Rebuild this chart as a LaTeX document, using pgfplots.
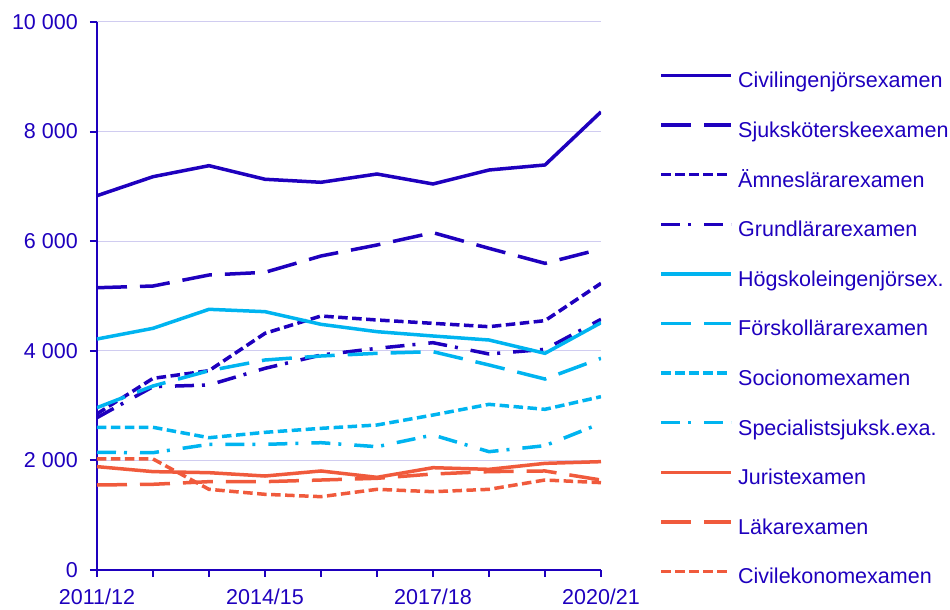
\documentclass[border=0pt]{standalone}
\usepackage{fontspec}
\setmainfont{Liberation Sans}
\usepackage{pgfplots}
\pgfplotsset{compat=1.18}
\usepackage{pgfplotstable}
\definecolor{scbdark}{RGB}{30,0,190}
\definecolor{scblight}{RGB}{0,180,240}
\definecolor{scborange}{RGB}{240,90,60}
\definecolor{gridc}{RGB}{208,204,240}

\pgfplotstableread{
x civ sjuk amne grund hog forsk socio spec jur lak cek
0 6830 5151 2850 2780 4215 2962 2604 2147 1886 1551 2026
1 7177 5182 3497 3345 4410 3358 2604 2141 1795 1564 2026
2 7378 5383 3637 3376 4757 3637 2414 2293 1776 1612 1472
3 7130 5432 4319 3680 4714 3832 2512 2293 1715 1612 1381
4 7075 5730 4635 3923 4483 3905 2585 2323 1807 1642 1338
5 7226 5931 4562 4045 4349 3954 2646 2250 1691 1673 1472
6 7044 6156 4501 4148 4270 3984 2828 2464 1867 1752 1429
7 7299 5870 4440 3942 4197 3741 3023 2159 1837 1795 1472
8 7391 5596 4550 4027 3954 3485 2932 2269 1946 1807 1642
9 8360 5858 5231 4574 4513 3863 3163 2677 1977 1642 1594
}\data

\tikzset{
  solidl/.style={solid},
  longd/.style={dash pattern=on 30pt off 13pt},
  shortd/.style={dash pattern=on 9.5pt off 4.5pt},
  dashdot/.style={dash pattern=on 19pt off 8pt on 3pt off 13pt},
}

\begin{document}
\fontsize{21pt}{25pt}\selectfont
\begin{tikzpicture}
\path[use as bounding box] (-97pt,-40pt) rectangle (853pt,570pt);
\begin{axis}[
  at={(0,0)}, anchor=origin,
  scale only axis, width=504pt, height=548pt,
  xmin=0, xmax=9, ymin=0, ymax=10000,
  scaled y ticks=false,
  axis x line=bottom, axis y line=left,
  axis line style={-, scbdark, line width=2pt},
  xtick={0,...,9}, xticklabels={2011/12,,,2014/15,,,2017/18,,,2020/21},
  ytick={0,2000,...,10000}, yticklabels={0,2 000,4 000,6 000,8 000,10 000},
  tick align=outside, major tick length=7pt,
  tick style={scbdark, line width=2pt},
  ymajorgrids, grid style={gridc, line width=1pt},
  ticklabel style={font=\fontsize{21.5pt}{25pt}\selectfont, text=scbdark},
  yticklabel style={xshift=-5pt},
  xticklabel style={yshift=-5pt},
  every axis plot/.append style={line width=3.5pt},
  legend image code/.code={\draw[#1, line width=3.5pt] (0pt,7pt) -- (70pt,7pt);},
  legend cell align=left,
  legend style={at={(1.116,0.911)}, anchor=north west, draw=none, fill=none,
    inner sep=0pt, row sep=26.6pt, column sep=3pt,
    nodes={inner sep=2pt, text height=15pt, text depth=4pt, text=scbdark,
      font=\fontsize{21.5pt}{25pt}\selectfont}},
]
\addplot[scbdark, solidl] table[x=x,y=civ]{\data};
\addlegendentry{Civilingenjörsexamen}
\addplot[scbdark, longd] table[x=x,y=sjuk]{\data};
\addlegendentry{Sjuksköterskeexamen}
\addplot[scbdark, shortd] table[x=x,y=amne]{\data};
\addlegendentry{Ämneslärarexamen}
\addplot[scbdark, dashdot] table[x=x,y=grund]{\data};
\addlegendentry{Grundlärarexamen}
\addplot[scblight, solidl] table[x=x,y=hog]{\data};
\addlegendentry{Högskoleingenjörsex.}
\addplot[scblight, longd] table[x=x,y=forsk]{\data};
\addlegendentry{Förskollärarexamen}
\addplot[scblight, shortd] table[x=x,y=socio]{\data};
\addlegendentry{Socionomexamen}
\addplot[scblight, dashdot] table[x=x,y=spec]{\data};
\addlegendentry{Specialistsjuksk.exa.}
\addplot[scborange, solidl] table[x=x,y=jur]{\data};
\addlegendentry{Juristexamen}
\addplot[scborange, longd] table[x=x,y=lak]{\data};
\addlegendentry{Läkarexamen}
\addplot[scborange, shortd] table[x=x,y=cek]{\data};
\addlegendentry{Civilekonomexamen}
\end{axis}
\end{tikzpicture}
\end{document}
